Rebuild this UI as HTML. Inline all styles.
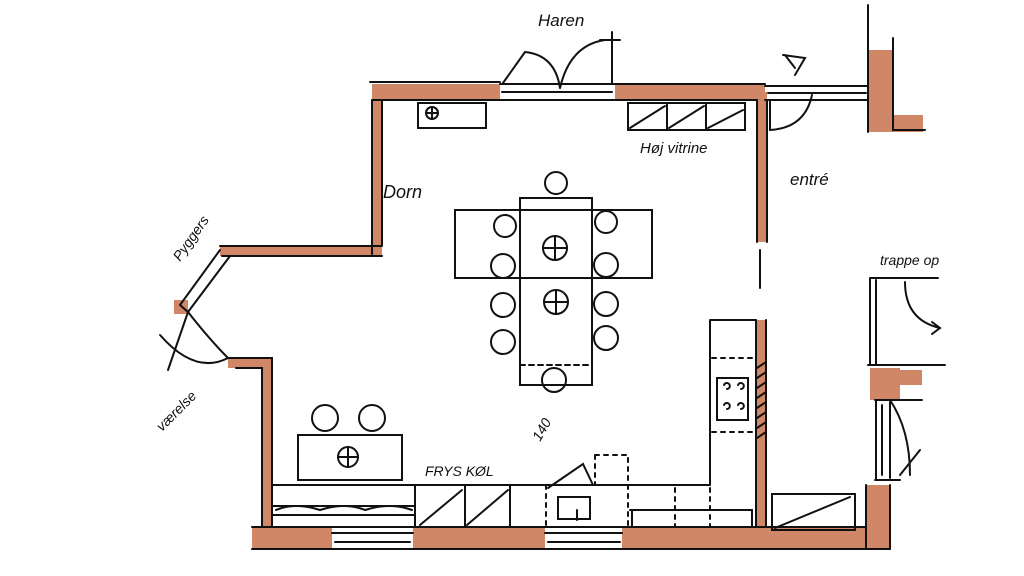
<!DOCTYPE html>
<html><head><meta charset="utf-8"><style>
html,body{margin:0;padding:0;background:#fff;width:1024px;height:576px;overflow:hidden}
svg{display:block}
text{font-family:"Liberation Sans",sans-serif;fill:#111;font-style:italic}
</style></head><body>
<svg width="1024" height="576" viewBox="0 0 1024 576" xmlns="http://www.w3.org/2000/svg">
<g fill="#cf8767" stroke="none">
<rect x="372" y="84" width="128" height="16"/>
<rect x="615" y="84" width="150" height="16"/>
<rect x="372" y="88" width="10" height="166"/>
<rect x="220" y="246" width="162" height="10"/>
<rect x="174" y="300" width="14" height="14"/>
<rect x="228" y="358" width="44" height="10"/>
<rect x="262" y="358" width="10" height="170"/>
<rect x="252" y="527" width="80" height="22"/>
<rect x="413" y="527" width="132" height="22"/>
<rect x="622" y="527" width="268" height="22"/>
<rect x="757" y="92" width="10" height="150"/>
<rect x="756" y="320" width="10" height="210"/>
<rect x="866" y="485" width="24" height="64"/>
<rect x="868" y="50" width="25" height="82"/>
<rect x="893" y="115" width="30" height="17"/>
<rect x="870" y="368" width="30" height="32"/>
<rect x="900" y="370" width="22" height="15"/>
</g>
<g fill="none" stroke="#111" stroke-width="2" stroke-linecap="round">
<!-- top wall -->
<path d="M370 82H500M372 100H500M500 84H615M500 100H615M502 92H612M615 84H765M615 100H757"/>
<path d="M372 100V254M382 100V246M382 256H222M220 246H382"/>
<path d="M220 250L180 305M230 256L188 312M180 305L188 312"/>
<path d="M228 358H272V527M236 368H262V527"/>
<path d="M252 527H866M252 549H890M332 533H413M335 542H410M545 533H622M548 542H620"/>
<path d="M757 100V242M767 100V242M760 250V288"/>
<path d="M756 320V527M766 320V527M866 485V549M890 485V549"/>
<path d="M765 86H868M765 100H868M768 93H866M868 5V132M893 38V130H925"/>
<!-- entree door -->
<path d="M770 100V130M770 130Q805 128 812 95"/>
<path d="M783 55L805 58L795 75M785 55L795 68"/>
<!-- haren doors -->
<path d="M503 83L525 52M525 52Q555 55 560 88M560 88Q570 45 605 40M612 32V84M600 40H620"/>
<!-- vaerelse door -->
<path d="M188 312L168 370M160 335Q195 375 228 358M188 312Q210 340 228 358"/>
<!-- trappe -->
<path d="M870 278H938M870 278V365M876 280V365M868 365H945M875 400H922"/>
<path d="M905 282Q905 320 940 328M932 322L940 328L932 334"/>
<path d="M876 400V480M890 402V478M882 405V475M890 400Q910 430 910 475M875 480H900M920 450L900 475"/>
<!-- cupboard top left -->
<rect x="418" y="103" width="68" height="25"/>
<circle cx="432" cy="113" r="6"/><path d="M426 113H438M432 107V119"/>
<!-- hoj vitrine -->
<rect x="628" y="103" width="117" height="27"/>
<path d="M667 103V130M706 103V130M630 128L665 106M669 128L704 106M708 128L743 110"/>
<!-- table -->
<rect x="520" y="198" width="72" height="187"/>
<rect x="455" y="210" width="197" height="68"/>
<path d="M520 365H592" stroke-dasharray="5 4"/>
<circle cx="555" cy="248" r="12"/><path d="M543 248H567M555 236V260"/>
<circle cx="556" cy="302" r="12"/><path d="M544 302H568M556 290V314"/>
<circle cx="505" cy="226" r="11"/><circle cx="503" cy="266" r="12"/><circle cx="503" cy="305" r="12"/><circle cx="503" cy="342" r="12"/>
<circle cx="606" cy="222" r="11"/><circle cx="606" cy="265" r="12"/><circle cx="606" cy="304" r="12"/><circle cx="606" cy="338" r="12"/>
<circle cx="556" cy="183" r="11"/><circle cx="554" cy="380" r="12"/>
<!-- island -->
<rect x="298" y="435" width="104" height="45"/>
<circle cx="348" cy="457" r="10"/><path d="M338 457H358M348 447V467"/>
<circle cx="325" cy="418" r="13"/><circle cx="372" cy="418" r="13"/>
<!-- counters -->
<path d="M272 485H710M710 320H756M710 320V485M272 506H415M272 515H415M415 485V527"/>
<path d="M276 510Q295 502 320 510Q345 502 365 510Q390 502 412 510"/>
<path d="M465 485V527M510 485V527M420 525L462 490M467 525L508 490"/>
<rect x="558" y="497" width="32" height="22"/><path d="M577 510V520"/>
<path d="M548 488L583 464L593 485"/>
<path d="M595 455H628V527M595 455V485M546 485V527M675 488V527M710 488V527" stroke-dasharray="4 5"/>
<path d="M630 510H752V527M632 510V527"/>
<path d="M712 358H752M712 432H752" stroke-dasharray="4 5"/>
<rect x="717" y="378" width="31" height="42"/>
<path d="M724 385a3 3 0 1 1 3 4M738 385a3 3 0 1 1 3 4M724 405a3 3 0 1 1 3 4M738 405a3 3 0 1 1 3 4"/>
<path d="M757 368L766 362M757 378L766 372M757 388L766 382M757 398L766 392M757 408L766 402M757 418L766 412M757 428L766 422M757 438L766 432"/>
<rect x="772" y="494" width="83" height="36"/><path d="M775 528L850 497"/>
</g>
<text x="538" y="26" font-size="17">Haren</text>
<text x="640" y="153" font-size="15">Høj vitrine</text>
<text x="383" y="198" font-size="18">Dorn</text>
<text x="790" y="185" font-size="17">entré</text>
<text x="880" y="265" font-size="14">trappe op</text>
<text x="425" y="476" font-size="14">FRYS KØL</text>
<text transform="translate(540,442) rotate(-60)" font-size="14">140</text>
<text transform="translate(180,262) rotate(-55)" font-size="14">Pyggers</text>
<text transform="translate(162,432) rotate(-45)" font-size="14">værelse</text>
</svg>
</body></html>
